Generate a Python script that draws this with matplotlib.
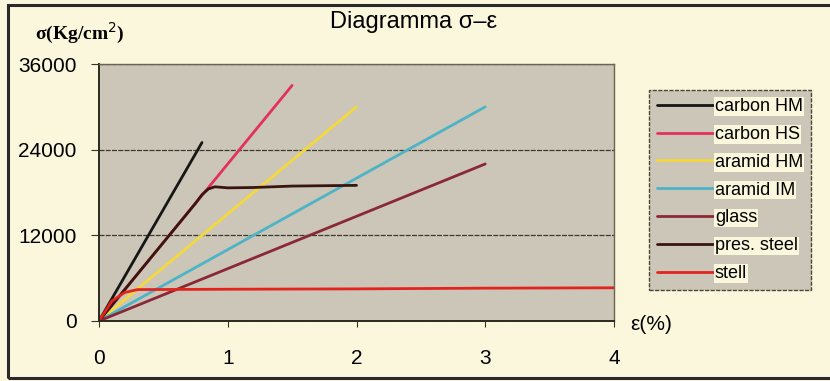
import matplotlib.pyplot as plt
from matplotlib.patches import Rectangle

# Stress-strain data, strain in %, stress in Kg/cm^2
carbon_hm_eps = [0, 0.8]
carbon_hm_sig = [0, 25000]
carbon_hs_eps = [0, 1.5]
carbon_hs_sig = [0, 33000]
aramid_hm_eps = [0, 2.0]
aramid_hm_sig = [0, 30000]
aramid_im_eps = [0, 3.0]
aramid_im_sig = [0, 30000]
glass_eps = [0, 3.0]
glass_sig = [0, 22000]
pres_steel_eps = [0, 0.75, 0.8, 0.85, 0.9, 1.0, 1.2, 1.5, 2.0]
pres_steel_sig = [0, 16500, 17700, 18500, 18800, 18650, 18700, 18900, 19000]
stell_eps = [0, 0.1, 0.2, 0.3, 1.0, 2.0, 3.0, 4.0]
stell_sig = [0, 2800, 4000, 4400, 4450, 4500, 4600, 4650]

series = [
    ("carbon HM", carbon_hm_eps, carbon_hm_sig, "#161616"),
    ("carbon HS", carbon_hs_eps, carbon_hs_sig, "#e2325c"),
    ("aramid HM", aramid_hm_eps, aramid_hm_sig, "#f4d83c"),
    ("aramid IM", aramid_im_eps, aramid_im_sig, "#4db3c6"),
    ("glass", glass_eps, glass_sig, "#8a2836"),
    ("pres. steel", pres_steel_eps, pres_steel_sig, "#3a1510"),
    ("stell", stell_eps, stell_sig, "#e3241e"),
]

x_ticks = [0, 1, 2, 3, 4]
y_ticks = [0, 12000, 24000, 36000]

fig = plt.figure(figsize=(8.3, 3.81), dpi=100)
fig.patch.set_facecolor("#fbf7dd")

# outer frame
fig.patches.append(Rectangle((8 / 830, 3 / 381), 1.0, 373 / 381, transform=fig.transFigure,
                             fill=False, edgecolor="#2a2a2a", linewidth=2.2))

ax = fig.add_axes([99 / 830, 60 / 381, 515 / 830, 257 / 381])
ax.set_facecolor("#cbc6b8")

for label, eps, sig, color in series:
    ax.plot(eps, sig, color=color, linewidth=2.0, label=label, solid_capstyle="round")

ax.set_xlim(0, 4)
ax.set_ylim(0, 36000)
ax.set_xticks(x_ticks)
ax.set_yticks(y_ticks)
ax.set_xticklabels([str(t) for t in x_ticks], fontsize=15, family="Liberation Sans")
ax.set_yticklabels([str(t) for t in y_ticks], fontsize=15, family="Liberation Sans")
ax.tick_params(axis="x", length=4, pad=16, color="#333333")
ax.tick_params(axis="y", length=6, pad=10, color="#333333")

ax.yaxis.grid(True, color="#3c3a30", linewidth=0.9, linestyle=(0, (4, 1)))
ax.set_axisbelow(True)
for side in ["top", "right"]:
    ax.spines[side].set_color("#6a6450")
    ax.spines[side].set_linewidth(1.0)
for side in ["left", "bottom"]:
    ax.spines[side].set_color("#2a2a20")
    ax.spines[side].set_linewidth(1.4)

fig.text(414 / 830, 1 - 22 / 381, "Diagramma σ–ε", ha="center", va="center",
         fontsize=17, family="Liberation Sans")
fig.text(80 / 830, 1 - 33 / 381, "σ(Kg/cm$^2$)", ha="center", va="center",
         fontsize=14, family="Liberation Serif", fontweight="bold")
fig.text(651 / 830, 1 - 325 / 381, "ε(%)", ha="center", va="center",
         fontsize=15, family="Liberation Sans")

leg = fig.legend(loc="upper left", bbox_to_anchor=(649 / 830, 1 - 90 / 381),
                 prop={"family": "Liberation Sans", "size": 13},
                 frameon=True, fancybox=False, handlelength=3.1, handletextpad=0.1,
                 labelspacing=0.6, borderpad=0.45, borderaxespad=0)
leg.get_frame().set_facecolor("#cbc6b8")
leg.get_frame().set_edgecolor("#4a4638")
leg.get_frame().set_linestyle((0, (3, 1)))
leg.get_frame().set_alpha(1)
for t in leg.get_texts():
    t.set_bbox(dict(facecolor="#fbf7dd", edgecolor="none", pad=0.5))

fig.savefig("out.png", dpi=100, facecolor=fig.get_facecolor())
